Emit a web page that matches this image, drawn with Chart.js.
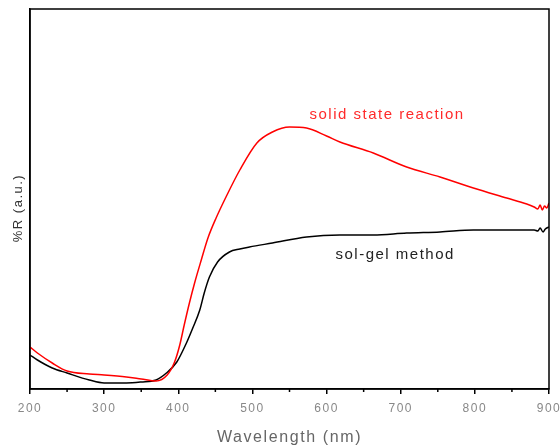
<!DOCTYPE html>
<html>
<head>
<meta charset="utf-8">
<script src="https://cdn.jsdelivr.net/npm/chart.js@4.4.1/dist/chart.umd.min.js"></script>
<style>
  html, body { margin: 0; padding: 0; background: #fff; overflow: hidden; }
  #box { width: 560px; height: 447px; overflow: hidden; }
</style>
</head>
<body>
<div id="box"><canvas id="spectra" width="560" height="455"></canvas></div>
<script>
// reflectance spectra, arbitrary units
const wlSolid = [200, 210, 230, 250, 280, 300, 330, 350, 370, 385, 395, 402, 408, 415, 422, 431, 440, 451, 465, 483, 506, 527, 550, 573, 600, 618, 663, 708, 753, 798, 843, 870, 880, 885, 888, 891, 894, 897, 900]
const rSolid = [42, 36, 26, 18, 15, 14, 12, 10, 8, 14, 27, 44, 64, 86, 106, 129, 151, 171, 193, 219, 246, 257, 262, 261, 253, 247, 236, 222, 212, 201, 191, 185, 182, 180, 184, 179, 183, 181, 186]

const wlGel = [200, 210, 230, 250, 280, 300, 330, 350, 370, 384, 398, 411, 419, 429, 435, 442, 453, 469, 483, 496, 527, 573, 618, 663, 708, 753, 798, 843, 875, 880, 885, 888, 892, 895, 900]
const rGel = [34, 29, 21, 16, 9, 6, 6, 7, 9, 16, 27, 46, 60, 79, 96, 112, 127, 137, 140, 142, 146, 152, 154, 154, 156, 157, 159, 159, 159, 159, 158, 161, 157, 160, 162]

const xTicks = [200, 300, 400, 500, 600, 700, 800, 900]
const minorTicks = [250, 350, 450, 550, 650, 750, 850]

const curveLabels = [
    { text: "solid state reaction", x: 577, y: 274, color: "#ff2a2a" },
    { text: "sol-gel method", x: 612, y: 134, color: "#222" }
]

const FONT = "'Liberation Sans', Arial, sans-serif"

const toPoints = (xs, ys) => xs.map((x, i) => ({ x, y: ys[i] }))

// spaced-out lettering for everything drawn on the canvas
const spacing = {
    id: "spacing",
    beforeDraw(chart) {
        chart.ctx.letterSpacing = "1.5px"
    }
}

const frame = {
    id: "frame",
    afterDraw(chart) {
        const { ctx, chartArea: a, scales } = chart
        const x = scales.x
        const y = scales.y
        ctx.save()
        ctx.strokeStyle = "#000"
        ctx.lineWidth = 1.5
        ctx.strokeRect(a.left, a.top, a.right - a.left, a.bottom - a.top)
        minorTicks.forEach(v => {
            const px = x.getPixelForValue(v)
            ctx.beginPath()
            ctx.moveTo(px, a.bottom)
            ctx.lineTo(px, a.bottom + 3)
            ctx.stroke()
        })

        ctx.letterSpacing = "1.5px"
        ctx.font = "15px " + FONT
        ctx.textAlign = "left"
        ctx.textBaseline = "middle"
        curveLabels.forEach(l => {
            ctx.fillStyle = l.color
            ctx.fillText(l.text, x.getPixelForValue(l.x), y.getPixelForValue(l.y))
        })

        // axis titles
        ctx.textAlign = "center"
        ctx.textBaseline = "alphabetic"
        ctx.fillStyle = "#666"
        ctx.font = "16px " + FONT
        ctx.letterSpacing = "1.6px"
        ctx.fillText("Wavelength (nm)", (a.left + a.right) / 2, 442)

        ctx.fillStyle = "#333"
        ctx.font = "13px " + FONT
        ctx.letterSpacing = "1.5px"
        ctx.textBaseline = "middle"
        ctx.translate(18, 208)
        ctx.rotate(-Math.PI / 2)
        ctx.fillText("%R (a.u.)", 0, 0)
        ctx.restore()
    }
}

new Chart(document.getElementById("spectra"), {
    type: "line",
    data: {
        datasets: [
            {
                label: "solid state reaction",
                data: toPoints(wlSolid, rSolid),
                borderColor: "#ff0000",
                borderWidth: 1.5,
                pointRadius: 0,
                cubicInterpolationMode: "monotone"
            },
            {
                label: "sol-gel method",
                data: toPoints(wlGel, rGel),
                borderColor: "#000000",
                borderWidth: 1.5,
                pointRadius: 0,
                cubicInterpolationMode: "monotone"
            }
        ]
    },
    options: {
        responsive: false,
        animation: false,
        devicePixelRatio: 1,
        layout: { padding: { left: 0, top: 9, right: 11, bottom: 0 } },
        plugins: { legend: { display: false }, tooltip: { enabled: false } },
        scales: {
            x: {
                type: "linear",
                min: 200,
                max: 900,
                afterBuildTicks: scale => { scale.ticks = xTicks.map(value => ({ value })) },
                afterFit: scale => {
                    scale.height = 66
                    scale.paddingLeft = 0
                    scale.paddingRight = 0
                },
                grid: { drawOnChartArea: false, color: "#000", lineWidth: 1.5, tickLength: 5 },
                border: { display: true, color: "#000", width: 1.5 },
                ticks: {
                    color: "#888",
                    padding: 7,
                    maxRotation: 0,
                    font: { family: FONT, size: 12 }
                }
            },
            y: {
                min: 0,
                max: 380,
                afterFit: scale => { scale.width = 30 },
                grid: { display: false },
                border: { display: true, color: "#000", width: 1.5 },
                ticks: { display: false }
            }
        }
    },
    plugins: [spacing, frame]
})
</script>
</body>
</html>
